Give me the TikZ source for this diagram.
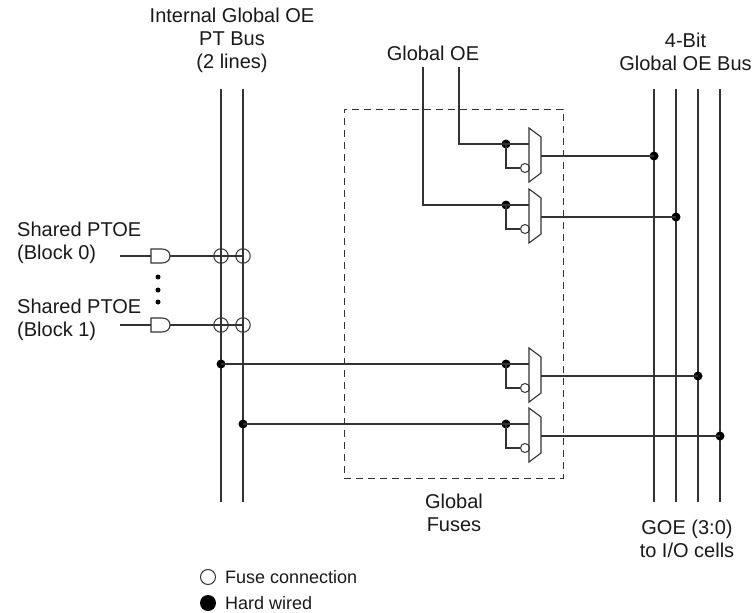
\documentclass[tikz,border=0pt]{standalone}
\usepackage{fontspec}
\setmainfont{Liberation Sans}
\usepackage{xcolor}
\usetikzlibrary{positioning,calc}
\definecolor{wire}{gray}{0.2}
\tikzset{
  line/.style={draw=wire, line width=1.1pt},
  label/.style={align=center, inner sep=0pt, font=\fontsize{20}{23}\selectfont, text=black!90},
  smalllabel/.style={anchor=west, inner sep=0pt, font=\fontsize{18}{20}\selectfont, text=black!90},
  dot/.style={circle, fill=black, inner sep=0pt, minimum size=9pt},
  fuse/.style={circle, draw=wire, line width=1pt, inner sep=0pt, minimum size=14.5pt},
  bubble/.style={circle, draw=wire, fill=white, line width=1pt, inner sep=0pt, minimum size=9pt}
}

\begin{document}
\begin{tikzpicture}[x=1pt, y=-1pt]
    \useasboundingbox (0,0) rectangle (756,613);

    % PT bus
    \coordinate (pt0top) at (221,89);
    \coordinate (pt0bot) at (221,502);
    \coordinate (pt1top) at (243,89);
    \coordinate (pt1bot) at (243,502);
    \draw[line] (pt0top) -- (pt0bot);
    \draw[line] (pt1top) -- (pt1bot);
    \node[label] (ptlabel) at (232,40.5) {Internal Global OE\\PT Bus\\(2 lines)};

    % 4-bit bus
    \foreach \i/\x in {0/654, 1/676, 2/698, 3/720} {
        \coordinate (bus\i top) at (\x,89);
        \coordinate (bus\i bot) at (\x,502);
        \draw[line] (bus\i top) -- (bus\i bot);
    }
    \node[label] (buslabel) at (685.5,51.5) {4-Bit\\Global OE Bus};
    \node[label] (goelabel) at (687,538.5) {GOE (3:0)\\to I/O cells};

    % Fuse box
    \node[draw=wire, line width=1pt, dash pattern=on 7pt off 5pt, minimum width=219pt, minimum height=369pt, inner sep=0pt] (fusebox) at (453.5,293.5) {};
    \node[label] (fuselabel) at (454,513) {Global\\Fuses};

    % Muxes
    \foreach \i/\y/\x in {0/144/654, 1/205/676, 2/364/698, 3/424/720} {
        \coordinate (in\i) at (529,\y);
        \coordinate (out\i) at (541,\y+12);
        \node[dot] (sel\i) at (506,\y) {};
        \node[bubble] (inv\i) at (525,\y+24) {};
        \node[dot] (tap\i) at (\x,\y+12) {};
        \draw[line] (sel\i.center) -- (in\i);
        \draw[line] (sel\i.center) |- (inv\i.west);
        \draw[line, line join=miter] (529,\y-16) -- (541,\y-7) -- (541,\y+29) -- (529,\y+38) -- cycle;
        \draw[line] (out\i) -- (tap\i.center);
    }

    % Global OE inputs
    \node[label] (globaloe) at (433,53) {Global OE};
    \coordinate (oe0) at (459,67);
    \coordinate (oe1) at (423,67);
    \draw[line] (oe0) |- (sel0.center);
    \draw[line] (oe1) |- (sel1.center);

    % PT bus inputs
    \node[dot] (pt0) at (221,364) {};
    \node[dot] (pt1) at (243,424) {};
    \draw[line] (pt0.center) -- (sel2.center);
    \draw[line] (pt1.center) -- (sel3.center);

    % Shared PTOE gates
    \foreach \i/\y in {0/256, 1/325} {
        \coordinate (andin\i) at (151,\y);
        \coordinate (andout\i) at (170,\y);
        \coordinate (wirein\i) at (120,\y);
        \node[fuse] (fa\i) at (221,\y) {};
        \node[fuse] (fb\i) at (243,\y) {};
        \draw[line] (wirein\i) -- (andin\i);
        \draw[line] (151,\y-7) -- (162,\y-7) .. controls (167,\y-7) and (170,\y-4) .. (andout\i)
            .. controls (170,\y+4) and (167,\y+7) .. (162,\y+7) -- (151,\y+7) -- cycle;
        \draw[line] (andout\i) -- (fb\i.center);
    }
    \node[label, align=left, anchor=west] (block0) at (17,243) {Shared PTOE\\(Block 0)};
    \node[label, align=left, anchor=west] (block1) at (17,320) {Shared PTOE\\(Block 1)};
    \foreach \i/\y in {0/277, 1/290, 2/302}
        \node[circle, fill=black, inner sep=0pt, minimum size=5pt] (more\i) at (158,\y) {};

    % Legend
    \node[circle, draw=wire, line width=1pt, inner sep=0pt, minimum size=15pt] (keyfuse) at (208,577) {};
    \node[circle, fill=black, inner sep=0pt, minimum size=16pt] (keyhard) at (208,603) {};
    \node[smalllabel] (fusetext) at (225,577) {Fuse connection};
    \node[smalllabel] (hardtext) at (225,603) {Hard wired};
\end{tikzpicture}
\end{document}
